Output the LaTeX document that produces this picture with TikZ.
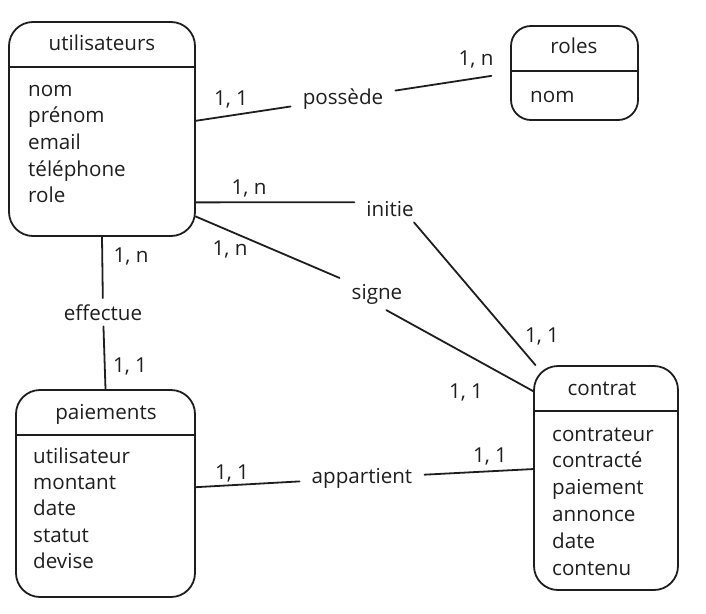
\documentclass[tikz,border=0pt]{standalone}
\usepackage{fontspec}
\setmainfont{Open Sans}
\usetikzlibrary{positioning}
\definecolor{ink}{HTML}{1E1E1E}

\tikzset{
entity/.style={draw=ink,line width=1.8pt,rounded corners=24pt,inner sep=0pt},
title/.style={anchor=base,text=ink,font=\fontsize{20.6pt}{24pt}\selectfont},
attr/.style={anchor=base west,text=ink,inner sep=0pt,font=\fontsize{20.6pt}{24pt}\selectfont},
rel/.style={anchor=base,text=ink,inner xsep=12pt,inner ysep=6pt,font=\fontsize{20.6pt}{24pt}\selectfont},
card/.style={anchor=base,text=ink,inner sep=0pt,font=\fontsize{20.6pt}{24pt}\selectfont},
link/.style={draw=ink,line width=1.8pt,line cap=round}
}

\begin{document}
\begin{tikzpicture}[x=1pt,y=-1pt]
\useasboundingbox (0,0) rectangle (706,613);

% entities
\node[entity,minimum width=186pt,minimum height=214pt] (util) at (102,129) {};
\node[entity,minimum width=127pt,minimum height=94pt,rounded corners=20pt] (roles) at (574.5,73) {};
\node[entity,minimum width=179pt,minimum height=207pt] (paie) at (105.5,493.5) {};
\node[entity,minimum width=144pt,minimum height=224pt] (contrat) at (606,478) {};
\foreach \e in {util,roles,paie,contrat}
  \draw[link,line cap=butt] ([yshift=-46pt]\e.north west) -- ([yshift=-46pt]\e.north east);

\node[title] (util-t) at (102,50) {utilisateurs};
\node[title] (roles-t) at (574,53) {roles};
\node[title] (paie-t) at (106,419) {paiements};
\node[title] (contrat-t) at (602,395) {contrat};

\foreach \a [count=\i] in {nom,prénom,email,téléphone,role}
  \node[attr] (util-a\i) at (28,96+26.7*\i-26.7) {\a};
\node[attr] (roles-a1) at (530,102) {nom};
\foreach \a [count=\i] in {utilisateur,montant,date,statut,devise}
  \node[attr] (paie-a\i) at (33,463.5+26.2*\i-26.2) {\a};
\foreach \a [count=\i] in {contrateur,contracté,paiement,annonce,date,contenu}
  \node[attr] (contrat-a\i) at (552,441+26.8*\i-26.8) {\a};

% relations
\node[rel] (possede) at (343,104) {possède};
\node[rel] (initie) at (390,216) {initie};
\node[rel] (signe) at (377,299) {signe};
\node[rel] (effectue) at (103,320) {effectue};
\node[rel] (appartient) at (362,483) {appartient};

\draw[link] (util.5) -- (possede);
\draw[link,shorten >=19pt] (possede) -- (roles.west);
\draw[link] (util.-38) -- (initie.170);
\draw[link] (initie.-30) -- (contrat.122);
\draw[link] (util.-43) -- (signe);
\draw[link] (signe.-60) -- (contrat.130);
\draw[link] (util.south) -- (effectue);
\draw[link] (effectue) -- (paie.north);
\draw[link] (paie.4) -- (appartient);
\draw[link] (appartient) -- (contrat.173);

% cardinalities
\node[card] (c-util-possede) at (231,105) {1, 1};
\node[card] (c-roles-possede) at (476,65) {1, n};
\node[card] (c-util-initie) at (249,194) {1, n};
\node[card] (c-contrat-initie) at (542,342) {1, 1};
\node[card] (c-util-signe) at (230,255) {1, n};
\node[card] (c-contrat-signe) at (466,398) {1, 1};
\node[card] (c-util-effectue) at (131,262) {1, n};
\node[card] (c-paie-effectue) at (130,372) {1, 1};
\node[card] (c-paie-appartient) at (232,479) {1, 1};
\node[card] (c-contrat-appartient) at (490,462) {1, 1};
\end{tikzpicture}
\end{document}
